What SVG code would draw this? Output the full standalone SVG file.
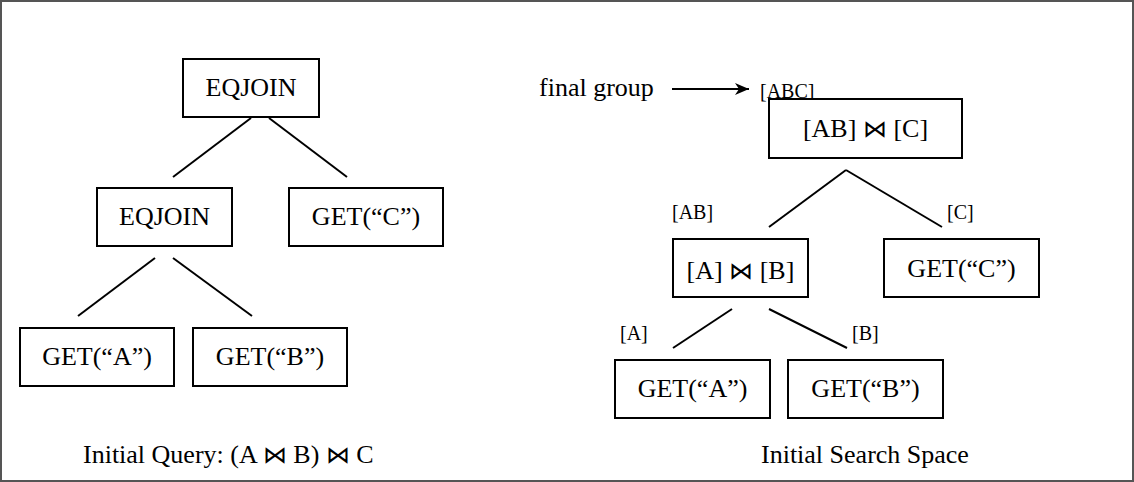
<svg xmlns="http://www.w3.org/2000/svg" width="1134" height="482" viewBox="0 0 1134 482">
<style>
.box{fill:#fff;stroke:#000;stroke-width:2}
.t{font-family:"Liberation Serif","Times New Roman",serif;font-size:26px;fill:#000}
.m{text-anchor:middle}
.s{font-family:"Liberation Serif","Times New Roman",serif;font-size:20px;fill:#000}
.j{font-family:"DejaVu Sans",sans-serif;font-weight:200;font-size:24px}
.e{stroke:#000;stroke-width:2;fill:none}
</style>
<defs>
<marker id="arr" viewBox="0 0 14 12" refX="14" refY="6" markerWidth="14" markerHeight="12" markerUnits="userSpaceOnUse" orient="auto">
<path d="M0,0 L14,6 L0,12 L4,6 Z" fill="#000"/>
</marker>
</defs>
<rect x="1" y="1" width="1132" height="480" fill="#fff" stroke="#555" stroke-width="2"/>
<g id="connectors">
<line class="e" x1="251" y1="118" x2="173" y2="177"/>
<line class="e" x1="269" y1="118" x2="347" y2="177"/>
<line class="e" x1="155" y1="258" x2="78" y2="316"/>
<line class="e" x1="173" y1="258" x2="252" y2="316"/>
<line class="e" x1="846" y1="170" x2="769" y2="227"/>
<line class="e" x1="846" y1="170" x2="942" y2="227"/>
<line class="e" x1="732" y1="309" x2="673" y2="348"/>
<line class="e" x1="769" y1="309" x2="847" y2="348"/>
<line class="e" x1="672" y1="89" x2="749" y2="89" marker-end="url(#arr)"/>
</g>
<g id="l-eqjoin-top"><rect class="box" x="183" y="59" width="136" height="58"/><text class="t m" x="251" y="96">EQJOIN</text></g>
<g id="l-eqjoin-mid"><rect class="box" x="97" y="188" width="135" height="58"/><text class="t m" x="164.5" y="225">EQJOIN</text></g>
<g id="l-getc"><rect class="box" x="289" y="188" width="154" height="58"/><text class="t m" x="366" y="225">GET(“C”)</text></g>
<g id="l-geta"><rect class="box" x="20" y="328" width="154" height="58"/><text class="t m" x="97" y="365">GET(“A”)</text></g>
<g id="l-getb"><rect class="box" x="193" y="328" width="154" height="58"/><text class="t m" x="270" y="365">GET(“B”)</text></g>
<g id="l-caption"><text class="t" x="83" y="463">Initial Query: (A <tspan class="j">⋈</tspan> B) <tspan class="j">⋈</tspan> C</text></g>
<g id="r-final"><text class="t" x="539" y="96">final group</text><text class="s" x="760" y="98">[ABC]</text></g>
<g id="r-abc"><rect class="box" x="769" y="99" width="193" height="59"/><text class="t m" x="865.5" y="137">[AB] <tspan class="j">⋈</tspan> [C]</text></g>
<g id="r-ab"><text class="s" x="672" y="219">[AB]</text><rect class="box" x="673" y="239" width="135" height="58"/><text class="t m" x="740.5" y="279">[A] <tspan class="j">⋈</tspan> [B]</text></g>
<g id="r-getc"><text class="s" x="947" y="219">[C]</text><rect class="box" x="884" y="239" width="155" height="58"/><text class="t m" x="961.5" y="277">GET(“C”)</text></g>
<g id="r-geta"><text class="s" x="620" y="340">[A]</text><rect class="box" x="615" y="360" width="155" height="58"/><text class="t m" x="692.5" y="397">GET(“A”)</text></g>
<g id="r-getb"><text class="s" x="852" y="340">[B]</text><rect class="box" x="788" y="360" width="155" height="58"/><text class="t m" x="865.5" y="397">GET(“B”)</text></g>
<g id="r-caption"><text class="t" x="761" y="463">Initial Search Space</text></g>
</svg>
